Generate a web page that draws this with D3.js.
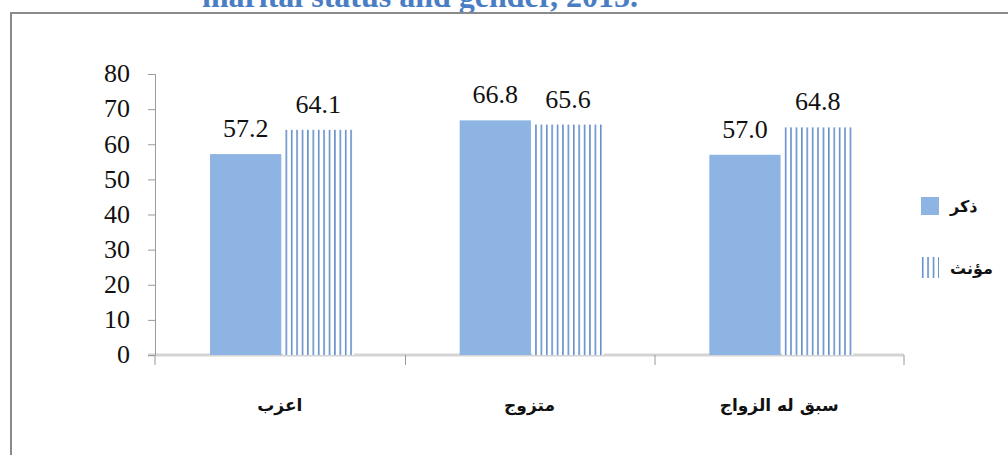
<!DOCTYPE html>
<html>
<head>
<meta charset="utf-8">
<script src="https://cdn.jsdelivr.net/npm/d3@7"></script>
<style>
  body { margin: 0; background: #fff; }
</style>
</head>
<body>
<svg id="chart"></svg>
<script>
var categories = ["اعزب", "متزوج", "سبق له الزواج"];
var seriesNames = ["ذكر", "مؤنث"];
var male = [57.2, 66.8, 57.0];
var female = [64.1, 65.6, 64.8];
var yTicks = [0, 10, 20, 30, 40, 50, 60, 70, 80];

var width = 1008, height = 455;
var blue = "#8EB4E3";
var stripe = "#4F81C6";

var svg = d3.select("#chart")
    .attr("width", width)
    .attr("height", height);

// pattern for the female bars
var defs = svg.append("defs");
var pat = defs.append("pattern")
    .attr("id", "vlines")
    .attr("patternUnits", "userSpaceOnUse")
    .attr("width", 5.4)
    .attr("height", 10);
pat.append("rect").attr("width", 5.4).attr("height", 10).attr("fill", "#fff");
pat.append("rect").attr("x", 1).attr("width", 1.4).attr("height", 10).attr("fill", stripe);

// title, cut off at the top like the source page
svg.append("text")
    .attr("x", 420)
    .attr("y", 7)
    .attr("text-anchor", "middle")
    .style("font-family", "'Liberation Serif', serif")
    .style("font-weight", "bold")
    .style("font-size", "32px")
    .attr("fill", "#4A7EC4")
    .text("marital status and gender, 2015.");

// frame
svg.append("path")
    .attr("d", "M11,470 V13 H1020")
    .attr("fill", "none")
    .attr("stroke", "#8a8a8a")
    .attr("stroke-width", 2);

var x = d3.scaleBand().domain(categories).range([155, 904]);
var y = d3.scaleLinear().domain([0, 80]).range([355, 74]);
var inner = d3.scaleBand().domain(seriesNames).range([55, 199]).paddingInner(0.02);

// baseline
svg.append("line")
    .attr("x1", 148).attr("x2", 904)
    .attr("y1", y(0)).attr("y2", y(0))
    .attr("stroke", "#d4d4d4").attr("stroke-width", 3);

// y axis
var yAxis = svg.append("g")
    .attr("transform", "translate(155,0)")
    .call(d3.axisLeft(y).tickValues(yTicks).tickSize(7).tickPadding(18));
yAxis.select(".domain").attr("stroke", "#9a9a9a").attr("d", "M-7,74.5H0.5V355.5");
yAxis.selectAll(".tick line").attr("stroke", "#9a9a9a");
yAxis.selectAll(".tick text")
    .attr("dy", "0.3em")
    .style("font-family", "'Liberation Serif', serif")
    .style("font-size", "26px")
    .attr("fill", "#111");

// x axis ticks
var xTicks = [155, 405.5, 655, 904];
svg.selectAll(".xt").data(xTicks).join("line")
    .attr("x1", d => d).attr("x2", d => d)
    .attr("y1", y(0)).attr("y2", y(0) + 10)
    .attr("stroke", "#9a9a9a");

svg.append("g").selectAll("text").data(categories).join("text")
    .attr("x", d => x(d) + x.bandwidth() / 2)
    .attr("y", 411)
    .attr("text-anchor", "middle")
    .style("font-family", "'DejaVu Sans', sans-serif")
    .style("font-weight", "bold")
    .style("font-size", "17px")
    .attr("fill", "#111")
    .text(d => d);

// bars
var rows = categories.map((c, i) => ({ cat: c, vals: [male[i], female[i]] }));
var groups = svg.append("g").selectAll("g").data(rows).join("g")
    .attr("transform", d => `translate(${x(d.cat)},0)`);

groups.selectAll("rect").data(d => d.vals.map((v, j) => ({ s: seriesNames[j], v: v }))).join("rect")
    .attr("x", d => inner(d.s))
    .attr("width", inner.bandwidth())
    .attr("y", d => y(d.v))
    .attr("height", d => y(0) - y(d.v))
    .attr("fill", (d, j) => j === 0 ? blue : "url(#vlines)");

groups.selectAll("text").data(d => d.vals.map((v, j) => ({ s: seriesNames[j], v: v }))).join("text")
    .attr("x", d => inner(d.s) + inner.bandwidth() / 2)
    .attr("y", d => y(d.v) - 17)
    .attr("text-anchor", "middle")
    .style("font-family", "'Liberation Serif', serif")
    .style("font-size", "26px")
    .attr("fill", "#111")
    .text(d => d3.format(".1f")(d.v));

// legend
var legend = svg.append("g").attr("transform", "translate(921,197)");
legend.append("rect").attr("width", 18).attr("height", 18).attr("fill", blue);
legend.append("rect").attr("y", 60).attr("width", 18).attr("height", 21).attr("fill", "url(#vlines)");
legend.selectAll("text").data(seriesNames).join("text")
    .attr("x", 29)
    .attr("y", (d, i) => 15 + i * 62)
    .attr("text-anchor", "start")
    .style("font-family", "'DejaVu Sans', sans-serif")
    .style("font-weight", "bold")
    .style("font-size", "16px")
    .attr("fill", "#111")
    .text(d => d);
</script>
</body>
</html>
